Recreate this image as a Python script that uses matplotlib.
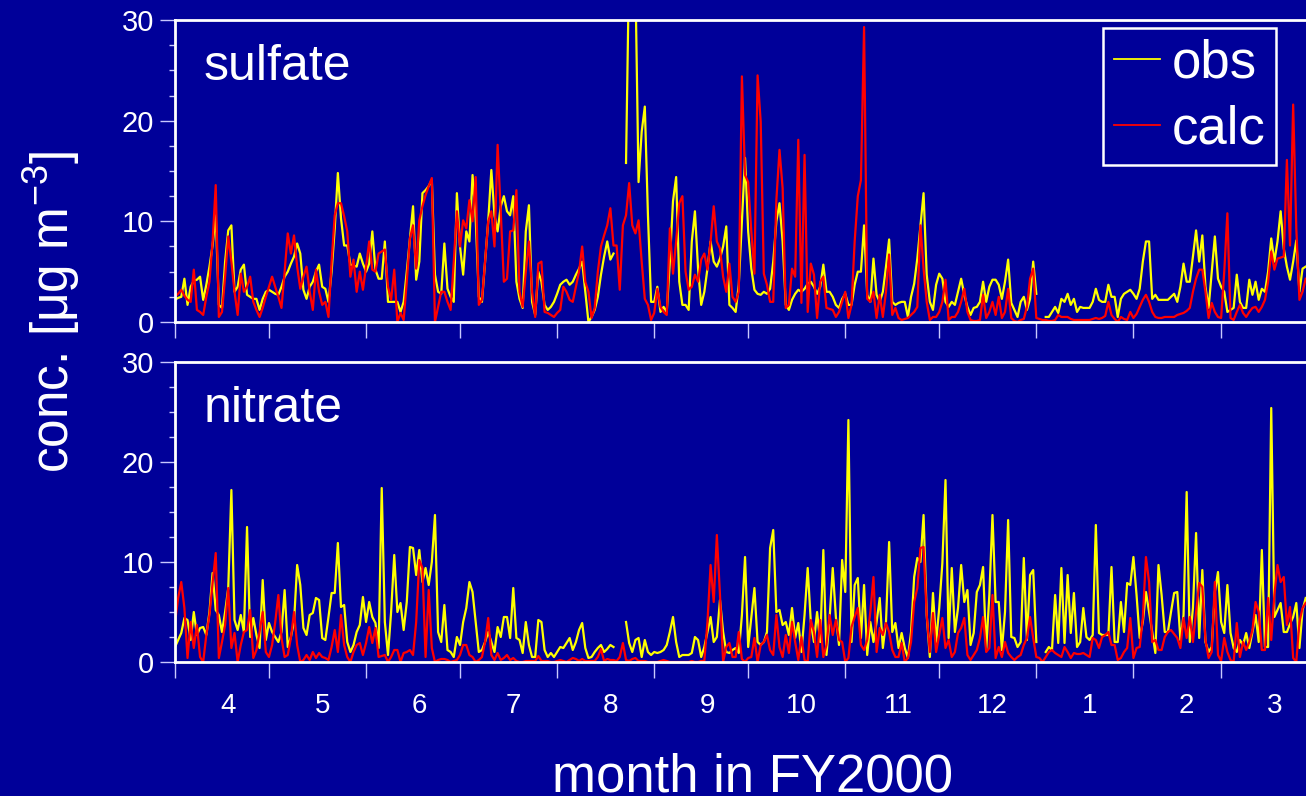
import numpy as np
import matplotlib
matplotlib.use("Agg")
import matplotlib.pyplot as plt
from matplotlib.ticker import MultipleLocator
from matplotlib.lines import Line2D

plt.rcParams['font.family'] = ['Liberation Sans', 'DejaVu Sans']
plt.rcParams['mathtext.fontset'] = 'custom'
plt.rcParams['mathtext.rm'] = 'Liberation Sans'
plt.rcParams['mathtext.it'] = 'Liberation Sans:italic'
plt.rcParams['mathtext.bf'] = 'Liberation Sans:bold'

NA = np.nan

# ---- data (daily values from 1 April 2000) ----
month_starts = [0, 30, 61, 91, 122, 153, 183, 214, 244, 275, 306, 334]
month_labels = ['4', '5', '6', '7', '8', '9', '10', '11', '12', '1', '2', '3']

sulfate_obs = [
    2.2, 2.4, 2.5, 4.3, 1.7, 3.5, 4.1, 4.2, 4.5, 2.2,
    3.7, 5.5, 7.6, 10.6, 1.7, 1.4, 6.0, 9.1, 9.6, 3.0,
    3.5, 5.2, 5.7, 2.7, 2.5, 2.3, 2.3, 1.2, 2.3, 3.0,
    3.2, 3.0, 2.8, 2.7, 3.5, 4.5, 5.0, 5.8, 6.5, 7.8,
    6.8, 3.2, 2.3, 3.5, 4.0, 5.0, 5.7, 3.5, 3.3, 2.0,
    5.0, 9.3, 14.8, 10.3, 7.6, 7.6, 5.7, 5.6, 5.5, 6.8,
    5.8, 5.0, 5.8, 9.0, 5.2, 4.3, 4.3, 8.0, 2.0, 2.0,
    2.0, 2.0, 1.0, 2.0, 5.0, 8.3, 11.5, 4.2, 6.0, 12.8,
    13.1, 13.5, 14.1, 4.7, 3.0, 2.8, 7.8, 3.3, 2.5, 2.0,
    12.8, 7.5, 4.7, 9.0, 8.0, 14.6, 10.3, 2.5, 2.0, 6.0,
    10.0, 15.1, 10.6, 9.0, 11.5, 12.5, 11.0, 10.6, 12.5, 4.0,
    2.3, 1.4, 9.0, 11.6, 2.0, 0.7, 5.0, 4.0, 1.7, 1.2,
    1.5, 2.0, 2.8, 3.7, 4.0, 4.2, 3.7, 4.0, 4.7, 5.3,
    6.0, 3.0, 0.0, 0.5, 1.2, 2.5, 4.7, 6.5, 8.0, 6.2,
    6.8, NA, NA, NA, 15.8, 36.0, 40.0, 34.0, 13.9, 18.9,
    21.4, 10.6, 2.0, 2.0, 3.5, 1.0, 1.5, 1.0, 6.0, 12.0,
    14.4, 4.0, 1.7, 1.7, 1.2, 8.0, 11.0, 5.3, 1.7, 3.0,
    5.3, 8.0, 6.0, 5.5, 6.3, 7.5, 9.5, 1.7, 1.4, 1.0,
    3.7, 10.0, 16.3, 9.0, 5.3, 3.2, 2.8, 2.7, 3.0, 2.8,
    3.3, 6.0, 10.0, 11.8, 8.0, 1.7, 1.2, 2.2, 2.8, 3.2,
    3.0, 3.3, 3.8, 4.0, 3.5, 2.8, 3.5, 5.7, 3.0, 3.0,
    2.5, 1.7, 1.4, 2.3, 2.8, 1.7, 1.7, 3.7, 5.0, 5.0,
    9.6, 2.7, 2.0, 6.3, 2.7, 2.0, 3.0, 5.5, 8.2, 2.0,
    1.7, 1.9, 2.0, 2.0, 0.5, 2.5, 3.8, 6.3, 9.5, 12.8,
    4.7, 2.0, 1.2, 3.7, 4.8, 4.3, 2.0, 1.5, 2.0, 1.7,
    3.0, 4.3, 2.7, 1.5, 0.7, 1.4, 1.5, 2.0, 4.0, 2.0,
    3.5, 4.2, 4.2, 3.7, 2.3, 4.0, 6.2, 1.9, 1.2, 0.5,
    2.0, 2.5, 1.2, 2.3, 6.0, 2.8, NA, NA, 0.5, 0.5,
    1.0, 1.5, 0.9, 2.3, 2.0, 2.8, 1.7, 2.3, 1.0, 1.5,
    1.4, 1.4, 1.4, 2.0, 3.3, 2.2, 2.0, 2.0, 3.7, 2.5,
    2.5, 0.5, 2.3, 2.8, 3.0, 3.2, 2.8, 2.3, 3.3, 6.0,
    8.0, 8.0, 2.3, 2.7, 2.2, 2.2, 2.2, 2.2, 2.5, 2.8,
    2.0, 3.5, 5.8, 4.0, 4.0, 6.5, 9.1, 6.0, 8.6, 3.5,
    1.4, 5.0, 8.5, 4.3, 3.5, 3.0, 1.0, 1.2, 1.4, 4.7,
    2.0, 1.4, 1.4, 4.2, 2.7, 4.0, 2.2, 3.3, 3.0, 5.0,
    8.3, 6.0, 8.0, 11.0, 7.3, 5.5, 4.2, 6.0, 8.1, 3.0,
    5.3, 5.5,
]

sulfate_calc = [
    2.5, 2.8, 3.2, 2.6, 2.2, 2.0, 5.2, 1.2, 1.0, 0.7,
    2.5, 4.0, 8.0, 13.6, 0.5, 1.0, 4.5, 8.5, 6.0, 3.0,
    0.7, 4.8, 3.0, 3.5, 4.5, 2.0, 1.2, 0.5, 1.4, 2.5,
    3.5, 4.5, 3.5, 2.5, 1.4, 5.0, 8.8, 6.8, 8.6, 5.5,
    3.3, 4.5, 5.5, 3.0, 1.2, 5.2, 3.0, 1.7, 2.0, 0.5,
    6.0, 10.6, 11.8, 11.8, 10.5, 9.0, 4.5, 6.2, 3.0, 5.0,
    3.2, 5.5, 8.0, 5.2, 5.0, 6.8, 7.0, 7.2, 3.5, 2.2,
    5.2, 0.0, 0.9, 0.2, 4.0, 8.3, 9.6, 5.3, 10.1, 11.5,
    12.6, 13.5, 14.3, 0.0, 1.5, 3.0, 3.0, 2.0, 1.2, 6.0,
    11.0, 7.5, 10.1, 9.3, 12.1, 10.0, 14.4, 1.7, 2.2, 6.0,
    10.0, 11.0, 7.5, 17.6, 11.0, 4.0, 4.3, 9.0, 9.1, 13.1,
    3.0, 1.5, 5.0, 8.0, 3.0, 0.5, 5.8, 6.0, 1.0, 0.9,
    0.7, 0.5, 0.9, 1.2, 3.5, 3.0, 2.2, 2.0, 3.5, 5.0,
    7.5, 4.0, 3.0, 0.4, 1.4, 5.0, 7.5, 8.6, 9.6, 11.3,
    7.6, 7.6, 3.2, 9.6, 10.6, 13.8, 9.6, 8.8, 10.1, 6.0,
    2.3, 1.7, 0.2, 0.9, 3.3, 1.5, 1.0, 0.7, 9.3, 4.8,
    8.0, 11.8, 12.5, 5.0, 3.2, 3.5, 4.7, 4.0, 6.2, 6.8,
    5.2, 8.0, 11.5, 8.0, 7.3, 4.5, 3.0, 5.8, 2.5, 2.0,
    3.0, 24.4, 14.6, 13.9, 9.0, 4.8, 24.5, 19.9, 4.8, 3.7,
    2.0, 2.0, 12.1, 17.1, 13.3, 1.4, 1.7, 5.3, 4.5, 18.1,
    1.9, 16.6, 1.0, 5.8, 4.7, 0.4, 4.0, 4.5, 1.4, 1.3,
    1.2, 0.5, 1.0, 2.0, 3.0, 0.4, 1.7, 8.0, 12.5, 14.1,
    29.3, 2.3, 2.0, 3.0, 0.4, 2.7, 0.5, 3.0, 6.7, 0.7,
    1.4, 0.4, 0.2, 0.3, 0.4, 0.7, 1.0, 1.5, 9.6, 5.3,
    2.0, 0.2, 0.5, 0.5, 1.0, 2.0, 4.2, 0.2, 0.5, 0.5,
    1.0, 2.0, 3.3, 1.0, 0.2, 0.1, 0.1, 0.2, 2.7, 0.4,
    1.0, 2.0, 0.7, 2.5, 0.4, 1.0, 3.3, 0.4, 0.1, 0.0,
    0.2, 0.3, 1.5, 4.3, 5.3, 0.4, 0.3, 0.2, 0.2, 0.1,
    0.1, 0.2, 0.7, 0.5, 0.5, 0.5, 0.3, 0.2, 0.2, 0.2,
    0.2, 0.2, 0.2, 0.3, 0.4, 0.3, 0.4, 0.6, 2.0, 0.7,
    0.3, 0.0, 0.5, 0.3, 0.2, 1.0, 0.4, 0.8, 1.5, 2.2,
    2.7, 2.0, 1.0, 0.5, 0.4, 0.4, 0.5, 0.5, 0.5, 0.5,
    0.7, 0.8, 0.9, 1.1, 1.4, 3.0, 4.3, 5.2, 5.2, 3.0,
    0.4, 1.9, 1.0, 0.5, 0.4, 5.0, 10.8, 0.4, 0.2, 1.0,
    1.7, 0.9, 0.5, 1.0, 1.4, 1.5, 1.0, 1.5, 2.2, 4.0,
    7.0, 5.2, 6.3, 6.4, 6.5, 16.1, 7.6, 21.6, 9.3, 2.2,
    3.0, 4.3,
]

nitrate_obs = [
    1.5, 2.2, 2.9, 4.4, 4.2, 2.2, 5.0, 2.7, 3.4, 3.5,
    2.7, 5.0, 8.9, 5.2, 4.7, 3.0, 5.0, 7.4, 17.2, 4.2,
    3.2, 4.7, 3.0, 13.5, 2.5, 4.4, 2.7, 1.4, 8.2, 2.2,
    3.9, 3.0, 2.5, 2.0, 3.0, 7.2, 1.5, 2.5, 4.0, 9.7,
    7.7, 3.4, 2.7, 4.7, 4.9, 6.4, 6.2, 2.4, 2.2, 4.5,
    6.9, 6.9, 11.9, 5.5, 5.7, 2.0, 1.0, 1.7, 3.0, 3.7,
    6.5, 4.0, 6.0, 4.5, 3.9, 1.4, 17.4, 4.0, 0.7, 5.0,
    10.7, 5.0, 5.9, 3.2, 6.0, 11.5, 11.4, 8.7, 11.2, 8.0,
    9.4, 7.7, 10.0, 14.7, 3.0, 2.0, 5.7, 1.2, 1.0, 0.5,
    2.5, 1.7, 4.0, 5.4, 8.0, 7.0, 4.0, 1.0, 1.2, 2.0,
    3.0, 2.0, 1.0, 3.5, 2.5, 4.5, 4.5, 2.4, 7.4, 2.4,
    2.2, 0.9, 4.0, 1.7, 0.5, 0.5, 4.2, 4.0, 1.2, 0.5,
    0.9, 0.5, 1.0, 1.5, 1.4, 1.9, 2.4, 1.2, 2.0, 3.2,
    3.9, 1.4, 0.4, 0.5, 1.0, 1.4, 1.7, 1.0, 1.3, 1.7,
    1.5, NA, NA, NA, 4.0, 1.9, 1.0, 2.2, 2.4, 0.5,
    2.2, 1.0, 0.7, 1.0, 0.9, 1.0, 1.2, 1.7, 3.0, 4.5,
    2.0, 0.5, 0.7, 0.7, 0.7, 0.9, 2.5, 2.2, 0.5, 1.5,
    3.0, 4.5, 2.0, 2.5, 6.2, 3.0, 1.0, 0.9, 1.2, 1.4,
    0.9, 4.7, 10.5, 1.5, 4.4, 7.4, 2.0, 1.7, 2.0, 3.0,
    11.4, 13.2, 5.0, 5.2, 3.7, 4.0, 2.7, 5.4, 2.4, 3.9,
    1.0, 4.7, 9.4, 4.0, 2.0, 5.0, 2.0, 11.2, 0.7, 4.4,
    9.4, 4.5, 1.7, 10.2, 7.0, 24.2, 2.0, 7.7, 8.4, 2.4,
    7.7, 0.7, 4.0, 2.0, 4.0, 6.4, 1.4, 4.0, 12.0, 3.0,
    3.9, 1.4, 2.9, 1.4, 0.4, 3.0, 8.5, 10.4, 10.0, 14.7,
    4.7, 0.5, 6.9, 2.0, 5.4, 9.9, 18.2, 2.4, 9.4, 3.0,
    5.4, 9.7, 6.0, 7.2, 1.7, 2.9, 7.0, 7.7, 9.5, 1.2,
    6.7, 14.7, 6.0, 6.0, 1.2, 5.0, 14.2, 2.5, 2.4, 1.5,
    2.0, 10.4, 2.2, 8.7, 9.2, 2.0, NA, NA, 1.0, 1.5,
    1.2, 6.7, 1.9, 9.4, 1.9, 8.7, 2.9, 6.9, 1.5, 2.0,
    5.4, 2.5, 2.2, 2.7, 13.7, 2.9, 2.7, 2.7, 2.7, 9.5,
    2.0, 2.0, 6.0, 3.0, 7.9, 7.7, 10.5, 6.7, 2.4, 4.0,
    7.0, 5.0, 3.0, 0.9, 9.7, 6.7, 3.0, 3.0, 5.0, 6.9,
    7.0, 2.2, 4.7, 17.0, 2.0, 5.4, 12.9, 2.4, 9.2, 2.0,
    1.0, 1.5, 7.0, 9.0, 4.0, 2.9, 7.7, 2.9, 1.4, 1.0,
    2.2, 1.7, 2.9, 1.4, 3.0, 4.7, 2.0, 11.2, 1.5, 1.5,
    25.4, 4.5, 5.2, 5.9, 3.0, 3.0, 3.8, 4.5, 5.9, 1.4,
    5.2, 6.4,
]

nitrate_calc = [
    3.9, 6.4, 8.0, 5.4, 0.4, 4.0, 1.4, 3.7, 0.5, 0.0,
    2.7, 4.7, 7.9, 10.9, 0.4, 2.0, 3.7, 7.4, 1.4, 2.9,
    0.0, 1.7, 3.0, 3.2, 5.2, 0.4, 1.2, 3.0, 5.0, 1.0,
    0.5, 1.7, 4.0, 6.7, 2.4, 0.5, 0.7, 2.4, 5.0, 1.7,
    0.0, 0.2, 0.7, 0.2, 1.0, 0.4, 0.9, 0.5, 0.4, 0.2,
    1.5, 3.2, 1.0, 4.7, 1.7, 0.5, 0.0, 1.0, 1.7, 1.9,
    0.7, 1.9, 3.5, 1.9, 3.4, 0.5, 0.6, 0.7, 0.0, 0.5,
    1.2, 1.2, 0.0, 0.9, 1.0, 1.2, 0.7, 4.0, 10.2, 9.4,
    0.5, 7.2, 1.4, 0.0, 0.2, 0.3, 0.3, 0.2, 0.0, 0.1,
    0.2, 0.7, 1.7, 1.7, 0.7, 0.5, 0.0, 0.2, 0.5, 2.0,
    4.4, 0.7, 0.2, 0.9, 0.2, 0.4, 0.7, 0.2, 0.4, 0.1,
    0.0, 0.0, 0.1, 0.1, 0.1, 0.1, 0.6, 0.1, 0.1, 0.1,
    0.0, 0.0, 0.1, 0.2, 0.1, 0.0, 0.2, 0.4, 0.3, 0.1,
    0.3, 0.1, 0.1, 0.1, 0.1, 0.5, 1.3, 0.1, 0.3, 0.2,
    0.2, 0.1, 0.5, 1.9, 0.2, 0.1, 0.3, 0.4, 0.1, 0.1,
    0.1, 0.0, 0.0, 0.0, 0.0, 0.1, 0.2, 0.1, 0.0, 0.0,
    0.0, 0.0, 0.0, 0.0, 0.0, 0.1, 0.0, 0.0, 0.1, 0.1,
    4.0, 9.7, 6.0, 12.7, 6.7, 0.0, 1.5, 1.9, 0.5, 0.5,
    3.0, 0.3, 0.0, 0.4, 0.5, 2.4, 0.0, 1.7, 2.0, 2.7,
    1.2, 0.7, 4.7, 1.5, 0.5, 2.7, 0.9, 4.0, 2.0, 0.2,
    2.5, 0.2, 0.0, 4.2, 3.0, 0.5, 4.2, 0.5, 1.7, 4.7,
    2.7, 4.2, 2.2, 2.0, 0.0, 0.4, 3.5, 4.5, 5.4, 1.7,
    1.2, 2.2, 5.0, 8.5, 1.0, 3.4, 2.7, 3.9, 3.0, 1.2,
    0.5, 0.5, 1.9, 0.0, 0.4, 2.0, 6.0, 7.4, 11.4, 11.5,
    4.7, 1.0, 4.9, 1.0, 2.7, 4.4, 1.4, 2.2, 0.5, 1.0,
    2.9, 3.4, 4.4, 0.7, 0.2, 0.7, 1.2, 2.4, 4.5, 1.0,
    1.4, 6.7, 0.4, 1.5, 0.5, 2.0, 0.9, 0.5, 0.2, 0.5,
    0.7, 1.7, 2.4, 4.5, 2.4, 0.5, 0.4, 0.0, 0.5, 1.0,
    1.2, 0.9, 0.7, 0.5, 1.5, 1.0, 0.4, 0.9, 0.8, 0.8,
    0.9, 0.7, 0.5, 2.4, 2.2, 1.4, 2.5, 2.7, 3.0, 1.7,
    1.7, 0.2, 0.4, 1.0, 1.4, 4.4, 0.4, 1.4, 1.5, 4.4,
    10.5, 8.0, 2.0, 2.2, 1.2, 1.2, 2.5, 3.0, 3.2, 2.8,
    2.4, 1.4, 4.4, 2.4, 4.5, 2.0, 5.0, 7.9, 7.5, 2.2,
    0.4, 1.0, 8.0, 0.7, 0.1, 2.4, 1.0, 0.2, 0.0, 3.9,
    0.5, 2.0, 1.2, 2.0, 3.2, 6.0, 5.0, 1.2, 1.2, 6.4,
    2.2, 6.7, 9.7, 8.0, 8.5, 3.7, 5.5, 0.4, 0.0, 4.0,
    5.4, 5.9,
]

BG = '#000099'
TICK = '#c8c8ff'
W, H = 1306, 796

fig = plt.figure(figsize=(W / 100, H / 100), dpi=100, facecolor=BG)
ax1 = fig.add_axes([175 / W, 1 - 322 / H, (W - 175) / W, 302 / H])
ax2 = fig.add_axes([175 / W, 1 - 662 / H, (W - 175) / W, 300 / H])

label_pos = [m + 17 for m in month_starts]


def style(ax, show_labels):
    ax.set_facecolor(BG)
    ax.set_xlim(0, 361.1)
    ax.set_ylim(0, 30)
    ax.spines['right'].set_visible(False)
    for s in ['left', 'top', 'bottom']:
        ax.spines[s].set_color('white')
        ax.spines[s].set_linewidth(2.0)
    ax.set_yticks([0, 10, 20, 30])
    ax.yaxis.set_minor_locator(MultipleLocator(2.5))
    ax.tick_params(axis='y', which='major', direction='out', length=11,
                   width=1, color=TICK, labelcolor='white', labelsize=21,
                   pad=4)
    ax.tick_params(axis='y', which='minor', direction='out', length=4.5,
                   width=1, color=TICK)
    ax.set_xticks(month_starts)
    ax.set_xticklabels([])
    ax.tick_params(axis='x', which='major', direction='out', length=11.5,
                   width=1, color=TICK)
    if show_labels:
        ax.set_xticks(label_pos, minor=True)
        ax.set_xticklabels(month_labels, minor=True)
        ax.tick_params(axis='x', which='minor', length=0, labelsize=20,
                       labelcolor='white', pad=22)


for ax, obs, calc, name, show in [(ax1, sulfate_obs, sulfate_calc, 'sulfate', False),
                                  (ax2, nitrate_obs, nitrate_calc, 'nitrate', True)]:
    style(ax, show)
    ax.plot(np.arange(len(obs)), np.array(obs, dtype=float), color='#ffff00',
            lw=1.6)
    ax.plot(np.arange(len(calc)), np.array(calc, dtype=float), color='#ff0000',
            lw=1.6)
    ax.text(0.025, 0.80, name, transform=ax.transAxes, color='white',
            fontsize=36, ha='left', va='baseline')

handles = [Line2D([], [], color='#ffff00', lw=1.3),
           Line2D([], [], color='#ff0000', lw=1.3)]
leg = ax1.legend(handles, ['obs', 'calc'], loc='upper right',
                 bbox_to_anchor=(0.9735, 0.9735), frameon=True, fancybox=False,
                 edgecolor='white', facecolor=BG, framealpha=1, fontsize=38,
                 labelcolor='white', handlelength=0.87, handletextpad=0.23,
                 borderpad=0.2, labelspacing=0.3, borderaxespad=0)
leg.get_frame().set_linewidth(1.8)

fig.text(52 / W, 1 - 312 / H, 'conc. [μg m$^{\\mathregular{-3}}$]', rotation=90,
         color='white', fontsize=37, ha='center', va='center')
fig.text(752 / W, 1 - 791 / H, 'month in FY2000', color='white', fontsize=38,
         ha='center', va='baseline')

fig.savefig('out.png', dpi=100, facecolor=BG)
